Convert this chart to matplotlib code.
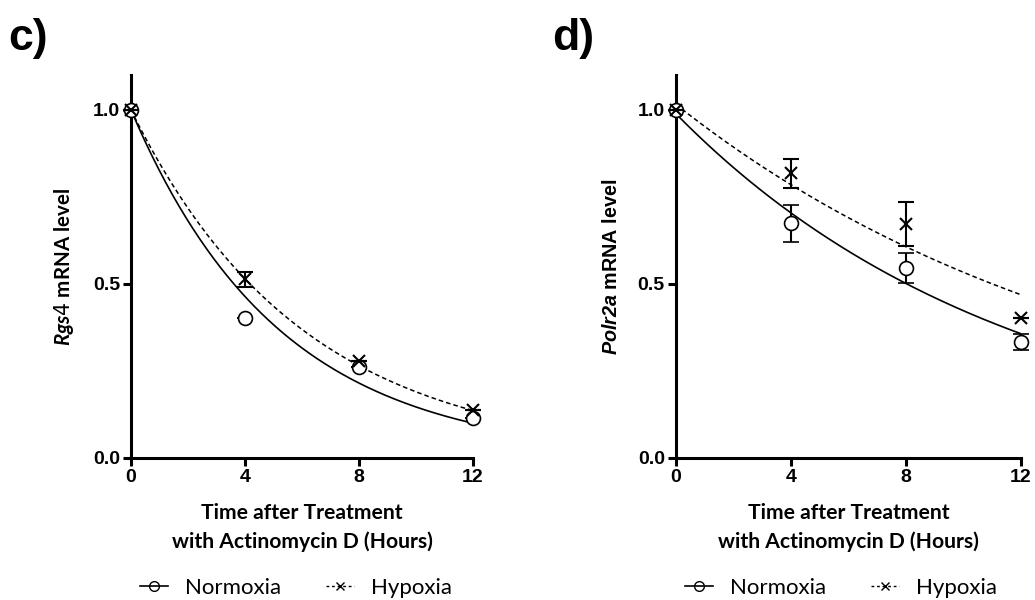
import numpy as np
import matplotlib
matplotlib.use('Agg')
import matplotlib.pyplot as plt
from matplotlib.lines import Line2D

plt.rcParams['font.family'] = 'Liberation Sans'
plt.rcParams['mathtext.fontset'] = 'custom'
# italic gene names inside the bold axis labels
plt.rcParams['mathtext.it'] = 'Lato:bold:italic'
plt.rcParams['mathtext.sf'] = 'Liberation Sans:bold:italic'

hours = [0, 4, 8, 12]

# panel c) Rgs4
rgs4_norm = [1.0, 0.401, 0.262, 0.115]
rgs4_norm_err = [0.0, 0.0, 0.0, 0.0]
rgs4_hyp = [1.0, 0.513, 0.278, 0.137]
rgs4_hyp_err = [0.0, 0.021, 0.0, 0.0]
# one-phase decay fits: (Y0, K)
rgs4_norm_fit = (1.0, 0.192)
rgs4_hyp_fit = (1.0, 0.166)

# panel d) Polr2a
polr2a_norm = [1.0, 0.674, 0.546, 0.333]
polr2a_norm_err = [0.0, 0.052, 0.043, 0.024]
polr2a_hyp = [1.0, 0.818, 0.672, 0.402]
polr2a_hyp_err = [0.0, 0.041, 0.063, 0.0]
polr2a_norm_fit = (0.989, 0.0849)
polr2a_hyp_fit = (1.016, 0.0644)

panels = [
    ('c)', r'$\mathit{Rgs4}$ mRNA level', 'Lato', 14.8,
     rgs4_norm, rgs4_norm_err, rgs4_hyp, rgs4_hyp_err, rgs4_norm_fit, rgs4_hyp_fit),
    ('d)', r'$\mathsf{Polr2a}$ mRNA level', 'Liberation Sans', 14.2,
     polr2a_norm, polr2a_norm_err, polr2a_hyp, polr2a_hyp_err, polr2a_norm_fit, polr2a_hyp_fit),
]

fig = plt.figure(figsize=(10.35, 6), dpi=100)
axes_pos = [[0.1266, 0.2367, 0.3304, 0.638], [0.6531, 0.2367, 0.3333, 0.638]]
letter_x = [0.008, 0.533]

tt = np.linspace(0, 12, 200)
for i, (letter, ylab, yfont, yfs, n, ne, h, he, nfit, hfit) in enumerate(panels):
    ax = fig.add_axes(axes_pos[i])
    ax.plot(tt, nfit[0] * np.exp(-nfit[1] * tt), color='black', linewidth=1.2)
    ax.plot(tt, hfit[0] * np.exp(-hfit[1] * tt), color='black', linewidth=1.1,
            linestyle=(0, (3, 2)))
    ax.errorbar(hours, n, yerr=ne, fmt='o', color='black', markerfacecolor='white',
                markersize=10, markeredgewidth=1.2, capsize=6, elinewidth=1.5,
                capthick=1.5, clip_on=False, zorder=3)
    ax.errorbar(hours, h, yerr=he, fmt='x', color='black', markersize=9,
                markeredgewidth=1.5, capsize=6, elinewidth=1.5, capthick=1.5,
                clip_on=False, zorder=4)

    ax.set_xlim(0, 12)
    ax.set_ylim(0, 1.1)
    ax.set_xticks(hours)
    ax.set_yticks([0.0, 0.5, 1.0])
    ax.set_yticklabels(['0.0', '0.5', '1.0'])
    for s in ['top', 'right']:
        ax.spines[s].set_visible(False)
    for s in ['left', 'bottom']:
        ax.spines[s].set_linewidth(2.2)
    ax.tick_params(axis='both', direction='out', length=6, width=2.2,
                   labelsize=14, pad=2)
    for lab in ax.get_xticklabels() + ax.get_yticklabels():
        lab.set_fontweight('bold')
        lab.set_family('Liberation Sans')

    ax.set_ylabel(ylab, fontsize=yfs, fontweight='bold', family=yfont, labelpad=12)
    ax.set_xlabel('Time after Treatment\nwith Actinomycin D (Hours)', fontsize=15.2,
                  fontweight='bold', family='Lato', labelpad=12, linespacing=1.5)

    fig.text(letter_x[i], 0.97, letter, fontsize=32, fontweight='bold',
             va='top', ha='left')

    handles = [
        Line2D([], [], color='black', linewidth=1.2, marker='o', markersize=7,
               markerfacecolor='none', markeredgewidth=1.0),
        Line2D([], [], color='black', linewidth=1.0, linestyle=(0, (2, 2)),
               marker='x', markersize=6, markeredgewidth=1.0),
    ]
    ax.legend(handles, ['Normoxia', 'Hypoxia'], loc='center left',
              bbox_to_anchor=(0.0, -0.34), ncol=2, frameon=False,
              borderaxespad=0, handlelength=1.26, handletextpad=0.77,
              columnspacing=2.0, prop={'family': 'Lato', 'size': 16})

fig.savefig('out.png', dpi=100)
